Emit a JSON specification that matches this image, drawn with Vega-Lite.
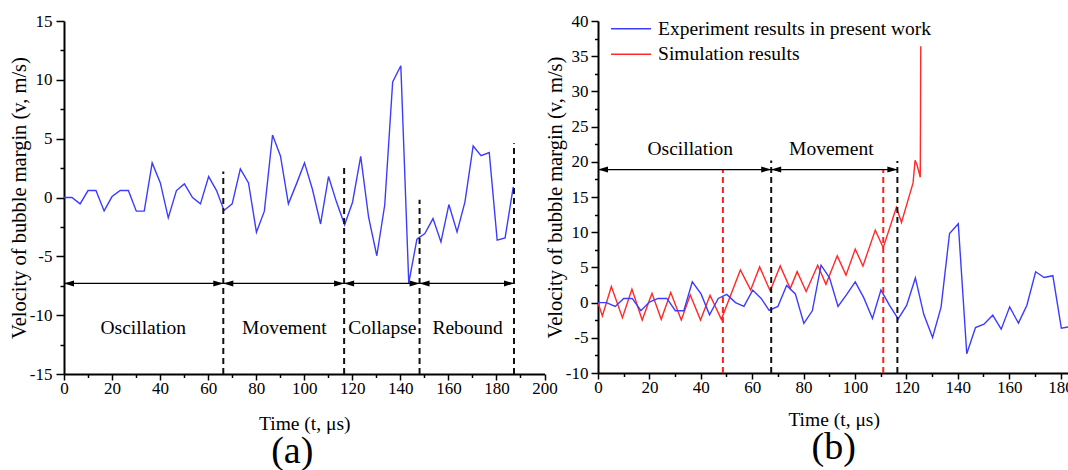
{
  "$schema": "https://vega.github.io/schema/vega-lite/v6.json",
  "padding": {"left": 9, "top": 12, "right": 0, "bottom": 0},
  "background": "white",
  "bounds": "flush",
  "spacing": 53,
  "config": {
    "view": {"stroke": null},
    "axis": {
      "grid": false,
      "domainColor": "black",
      "domainWidth": 2,
      "tickColor": "black",
      "tickWidth": 1.5,
      "labelFont": "Liberation Serif",
      "labelFontSize": 17,
      "labelColor": "black",
      "titleFont": "Liberation Serif",
      "titleFontSize": 19.5,
      "titleFontWeight": "normal",
      "titleColor": "black",
      "labelFlush": false,
      "labelOverlap": false
    },
    "text": {"font": "Liberation Serif", "fontSize": 19.5, "color": "black"}
  },
  "resolve": {"scale": {"color": "independent"}, "legend": {"color": "independent"}},
  "datasets": {
    "exp": [{"t":0,"v":0},{"t":3.3,"v":0},{"t":6.7,"v":-0.54},{"t":10,"v":0.59},{"t":13.3,"v":0.59},{"t":16.7,"v":-1.14},{"t":20,"v":0.08},{"t":23.4,"v":0.59},{"t":26.8,"v":0.59},{"t":30.1,"v":-1.16},{"t":33.4,"v":-1.16},{"t":36.7,"v":2.94},{"t":40.1,"v":1.24},{"t":43.4,"v":-1.73},{"t":46.8,"v":0.59},{"t":50.1,"v":1.16},{"t":53.5,"v":0},{"t":56.8,"v":-0.54},{"t":60.2,"v":1.78},{"t":63.5,"v":0.59},{"t":66.6,"v":-1.1},{"t":70,"v":-0.54},{"t":73.4,"v":2.43},{"t":76.8,"v":1.24},{"t":80.1,"v":-2.95},{"t":83.4,"v":-1.16},{"t":86.8,"v":5.31},{"t":90.1,"v":3.53},{"t":93.4,"v":-0.54},{"t":96.8,"v":1.18},{"t":100.1,"v":2.94},{"t":103.4,"v":0.7},{"t":106.8,"v":-2.25},{"t":110.1,"v":1.78},{"t":113.4,"v":-0.37},{"t":116.8,"v":-2.32},{"t":120.1,"v":-0.4},{"t":123.5,"v":3.5},{"t":126.8,"v":-1.7},{"t":130.2,"v":-4.95},{"t":133.5,"v":-0.64},{"t":136.8,"v":9.82},{"t":140.2,"v":11.2},{"t":143.5,"v":-7.26},{"t":146.9,"v":-3.54},{"t":150.2,"v":-3.06},{"t":153.6,"v":-1.79},{"t":156.9,"v":-3.77},{"t":160.2,"v":-0.6},{"t":163.6,"v":-2.92},{"t":166.9,"v":-0.37},{"t":170.3,"v":4.38},{"t":173.6,"v":3.56},{"t":177,"v":3.82},{"t":180.3,"v":-3.62},{"t":183.6,"v":-3.43},{"t":187,"v":0.9}],
    "sim": [{"t":0,"v":0},{"t":1.7,"v":-1.9},{"t":5.2,"v":2.28},{"t":9.5,"v":-2.14},{"t":13.2,"v":1.9},{"t":17.2,"v":-2.48},{"t":21,"v":1.32},{"t":24.6,"v":-2.38},{"t":28.3,"v":1.42},{"t":32.4,"v":-2.48},{"t":35.9,"v":1.08},{"t":39.9,"v":-2.48},{"t":43.6,"v":1.04},{"t":48,"v":-2.38},{"t":55.4,"v":4.64},{"t":59.4,"v":1.8},{"t":62.9,"v":5.07},{"t":67,"v":1.65},{"t":70.9,"v":5.21},{"t":74.8,"v":1.99},{"t":77.5,"v":4.4},{"t":81,"v":1.57},{"t":85.5,"v":5.31},{"t":88.7,"v":2.6},{"t":93.1,"v":6.64},{"t":96.5,"v":3.9},{"t":100.1,"v":7.6},{"t":103.1,"v":5.2},{"t":107.9,"v":10.3},{"t":111,"v":7.8},{"t":116.1,"v":13.5},{"t":118.1,"v":11.4},{"t":122.6,"v":17},{"t":123.4,"v":20.2},{"t":124.2,"v":19.5},{"t":125.4,"v":17.8},{"t":125.6,"v":36.4}],
    "a_phases": [{"t":66.3,"v":-15,"v2":2.2},{"t":116.6,"v":-15,"v2":2.8},{"t":148,"v":-15,"v2":-0.2},{"t":187.3,"v":-15,"v2":4.6}],
    "a_arrows": [{"t":0,"t2":66.3,"v":-7.3},{"t":66.3,"t2":116.6,"v":-7.3},{"t":116.6,"t2":148,"v":-7.3},{"t":148,"t2":187.3,"v":-7.3}],
    "a_labels": [{"t":33,"v":-11.1,"label":"Oscillation"},{"t":91.7,"v":-11.1,"label":"Movement"},{"t":132.5,"v":-11.1,"label":"Collapse"},{"t":168,"v":-11.1,"label":"Rebound"}],
    "b_phases": [{"t":67.4,"v":-10,"v2":20.2},{"t":116.5,"v":-10,"v2":20.1}],
    "b_simlines": [{"t":48.6,"v":-10,"v2":18.9},{"t":111,"v":-10,"v2":18.9}],
    "b_arrows": [{"t":0,"t2":67.4,"v":18.9},{"t":67.4,"t2":116.5,"v":18.9}],
    "b_labels": [{"t":35.9,"v":21.8,"label":"Oscillation"},{"t":90.8,"v":21.8,"label":"Movement"}]
  },
  "hconcat": [
    {
      "width": 480.5,
      "height": 353,
      "title": {"text": "(a)", "orient": "bottom", "frame": "group", "anchor": "middle", "dx": -12, "offset": 0.5, "font": "Liberation Serif", "fontSize": 38, "fontWeight": "normal", "color": "black"},
      "encoding": {
        "x": {"field": "t", "type": "quantitative", "scale": {"domain": [0, 200], "nice": false},
          "axis": {"title": "Time (t, μs)", "values": [0,10,20,30,40,50,60,70,80,90,100,110,120,130,140,150,160,170,180,190,200],
            "labelExpr": "datum.value % 20 === 0 ? toString(datum.value) : ''",
            "tickSize": {"condition": {"test": "datum.value % 20 === 0", "value": 6}, "value": 3.5},
            "labelFont": "Liberation Serif", "titleFont": "Liberation Serif",
            "labelPadding": 0, "titlePadding": 18}},
        "y": {"field": "v", "type": "quantitative", "scale": {"domain": [-15, 15], "nice": false},
          "axis": {"title": "Velocity of bubble margin (v, m/s)", "values": [-15,-12.5,-10,-7.5,-5,-2.5,0,2.5,5,7.5,10,12.5,15],
            "labelExpr": "datum.value % 5 === 0 ? toString(datum.value) : ''",
            "tickSize": {"condition": {"test": "datum.value % 5 === 0", "value": 8}, "value": 4},
            "labelFont": "Liberation Serif", "titleFont": "Liberation Serif", "titleFontSize": 20.5,
            "labelPadding": 4, "titlePadding": 0}}
      },
      "layer": [
        {"data": {"name": "exp"}, "mark": {"type": "line", "color": "#3c3cff", "strokeWidth": 1.4, "clip": true}},
        {"data": {"name": "a_phases"}, "mark": {"type": "rule", "color": "#111111", "strokeWidth": 2, "strokeDash": [6, 4]}, "encoding": {"y2": {"field": "v2"}}},
        {"data": {"name": "a_arrows"}, "mark": {"type": "rule", "color": "black", "strokeWidth": 1.3}, "encoding": {"x2": {"field": "t2"}}},
        {"data": {"name": "a_arrows"}, "mark": {"type": "point", "shape": "M1,-0.6L-1,0L1,0.6Z", "filled": true, "color": "black", "opacity": 1, "size": 100, "xOffset": 5}},
        {"data": {"name": "a_arrows"}, "mark": {"type": "point", "shape": "M-1,-0.6L1,0L-1,0.6Z", "filled": true, "color": "black", "opacity": 1, "size": 100, "xOffset": -5},
          "encoding": {"x": {"field": "t2", "type": "quantitative", "scale": {"domain": [0, 200], "nice": false},
            "axis": {"title": "Time (t, μs)", "values": [0,10,20,30,40,50,60,70,80,90,100,110,120,130,140,150,160,170,180,190,200],
              "labelExpr": "datum.value % 20 === 0 ? toString(datum.value) : ''",
              "tickSize": {"condition": {"test": "datum.value % 20 === 0", "value": 6}, "value": 3.5},
              "labelFont": "Liberation Serif", "titleFont": "Liberation Serif",
              "labelPadding": 0, "titlePadding": 18}}}},
        {"data": {"name": "a_labels"}, "mark": {"type": "text", "align": "center", "baseline": "middle"}, "encoding": {"text": {"field": "label"}}}
      ]
    },
    {
      "width": 471.3,
      "height": 352,
      "title": {"text": "(b)", "orient": "bottom", "frame": "group", "anchor": "middle", "offset": 0.5, "font": "Liberation Serif", "fontSize": 38, "fontWeight": "normal", "color": "black"},
      "encoding": {
        "x": {"field": "t", "type": "quantitative", "scale": {"domain": [0, 183.4], "nice": false},
          "axis": {"title": "Time (t, μs)", "values": [0,10,20,30,40,50,60,70,80,90,100,110,120,130,140,150,160,170,180],
            "labelExpr": "datum.value % 20 === 0 ? toString(datum.value) : ''",
            "tickSize": {"condition": {"test": "datum.value % 20 === 0", "value": 6}, "value": 3.5},
            "labelFont": "Liberation Serif", "titleFont": "Liberation Serif",
            "labelPadding": 0, "titlePadding": 15}},
        "y": {"field": "v", "type": "quantitative", "scale": {"domain": [-10, 40], "nice": false},
          "axis": {"title": "Velocity of bubble margin (v, m/s)", "values": [-10,-7.5,-5,-2.5,0,2.5,5,7.5,10,12.5,15,17.5,20,22.5,25,27.5,30,32.5,35,37.5,40],
            "labelExpr": "datum.value % 5 === 0 ? toString(datum.value) : ''",
            "tickSize": {"condition": {"test": "datum.value % 5 === 0", "value": 7}, "value": 3.5},
            "labelFont": "Liberation Serif", "titleFont": "Liberation Serif", "titleFontSize": 20.5,
            "labelPadding": 3, "titlePadding": 0}}
      },
      "layer": [
        {"data": {"name": "sim"}, "mark": {"type": "line", "strokeWidth": 1.4, "clip": true},
          "encoding": {"color": {"datum": "Simulation results", "type": "nominal",
            "scale": {"domain": ["Experiment results in present work", "Simulation results"], "range": ["#3c3cff", "#ff2a2a"]},
            "legend": {"orient": "none", "legendX": 23.3, "legendY": -2, "title": null, "symbolType": "M-3,0H3", "symbolSize": 178, "symbolStrokeWidth": 1.5, "labelFont": "Liberation Serif", "labelFontSize": 19.5, "labelColor": "black", "labelOffset": 17.3, "rowPadding": 4.5, "padding": 0, "labelLimit": 600}}}},
        {"data": {"name": "exp"}, "mark": {"type": "line", "strokeWidth": 1.4, "clip": true},
          "encoding": {"color": {"datum": "Experiment results in present work", "type": "nominal"}}},
        {"data": {"name": "b_simlines"}, "mark": {"type": "rule", "color": "#ff2020", "strokeWidth": 2, "strokeDash": [6, 4]}, "encoding": {"y2": {"field": "v2"}}},
        {"data": {"name": "b_phases"}, "mark": {"type": "rule", "color": "#111111", "strokeWidth": 2, "strokeDash": [6, 4]}, "encoding": {"y2": {"field": "v2"}}},
        {"data": {"name": "b_arrows"}, "mark": {"type": "rule", "color": "black", "strokeWidth": 1.3}, "encoding": {"x2": {"field": "t2"}}},
        {"data": {"name": "b_arrows"}, "mark": {"type": "point", "shape": "M1,-0.6L-1,0L1,0.6Z", "filled": true, "color": "black", "opacity": 1, "size": 100, "xOffset": 5}},
        {"data": {"name": "b_arrows"}, "mark": {"type": "point", "shape": "M-1,-0.6L1,0L-1,0.6Z", "filled": true, "color": "black", "opacity": 1, "size": 100, "xOffset": -5},
          "encoding": {"x": {"field": "t2", "type": "quantitative", "scale": {"domain": [0, 183.4], "nice": false},
            "axis": {"title": "Time (t, μs)", "values": [0,10,20,30,40,50,60,70,80,90,100,110,120,130,140,150,160,170,180],
              "labelExpr": "datum.value % 20 === 0 ? toString(datum.value) : ''",
              "tickSize": {"condition": {"test": "datum.value % 20 === 0", "value": 6}, "value": 3.5},
              "labelFont": "Liberation Serif", "titleFont": "Liberation Serif",
              "labelPadding": 0, "titlePadding": 15}}}},
        {"data": {"name": "b_labels"}, "mark": {"type": "text", "align": "center", "baseline": "middle"}, "encoding": {"text": {"field": "label"}}}
      ]
    }
  ]
}
